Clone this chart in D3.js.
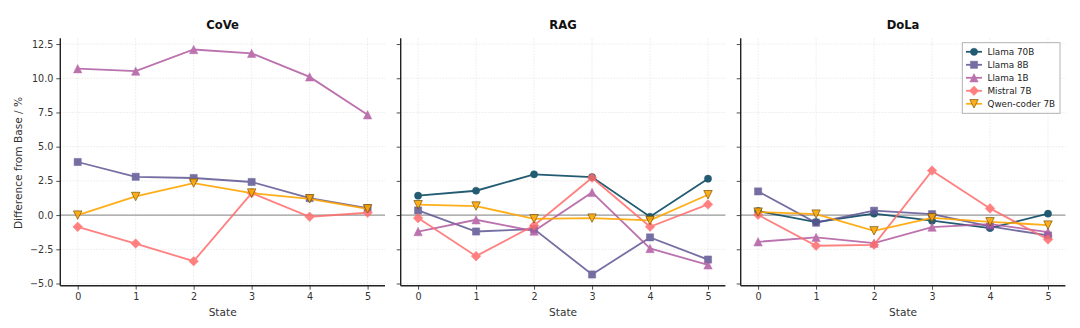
<!DOCTYPE html>
<html><head><meta charset="utf-8">
<script src="https://cdn.jsdelivr.net/npm/d3@7"></script>
<style>body{margin:0;background:#fff}svg{display:block}text{font-family:"DejaVu Sans",sans-serif}</style>
</head><body><svg id="c" width="1080" height="328"></svg>
<script>
const states = [0,1,2,3,4,5];
const panels = ["CoVe","RAG","DoLa"];
const models = ["Llama 70B","Llama 8B","Llama 1B","Mistral 7B","Qwen-coder 7B"];
const colors = ["#17536b","#5c5593","#b05aa0","#ff6b6b","#ffa600"];
const markers = ["circle","square","triangle","diamond","triangleDown"];
// values per panel per model (null = not shown)
const cove = [
  null,
  [3.88,2.80,2.71,2.42,1.24,0.51],
  [10.70,10.52,12.10,11.82,10.10,7.33],
  [-0.86,-2.08,-3.37,1.61,-0.12,0.17],
  [0.00,1.36,2.34,1.61,1.19,0.46]
];
const rag = [
  [1.42,1.78,2.98,2.78,-0.12,2.66],
  [0.34,-1.20,-1.02,-4.34,-1.63,-3.25],
  [-1.20,-0.34,-1.17,1.66,-2.44,-3.64],
  [-0.22,-3.00,-0.76,2.73,-0.85,0.78],
  [0.76,0.66,-0.27,-0.22,-0.39,1.49]
];
const dola = [
  [0.29,-0.51,0.10,-0.41,-0.95,0.10],
  [1.73,-0.56,0.32,0.07,-0.83,-1.49],
  [-1.95,-1.63,-2.05,-0.88,-0.66,-1.24],
  [0.02,-2.24,-2.17,3.25,0.49,-1.78],
  [0.22,0.07,-1.15,-0.20,-0.49,-0.73]
];
const panelData = [cove, rag, dola];
const yTicks = [-5.0,-2.5,0.0,2.5,5.0,7.5,10.0,12.5];
const xTicks = [0,1,2,3,4,5];

const svg = d3.select("#c");
const plotTop = 38.3, plotBottom = 285.7, pw = 324.7;
const lefts = [60.3, 400.7, 740.7];
const y = d3.scaleLinear().domain([-5.16,12.92]).range([plotBottom, plotTop]);

function markerPath(type){
  const p = d3.path();
  if(type==="circle"){ p.arc(0,0,3.6,0,2*Math.PI); }
  else if(type==="square"){ p.rect(-3.6,-3.6,7.2,7.2); }
  else if(type==="triangle"){ p.moveTo(0,-4.2); p.lineTo(4.2,4.2); p.lineTo(-4.2,4.2); p.closePath(); }
  else if(type==="triangleDown"){ p.moveTo(0,4.2); p.lineTo(4.2,-4.2); p.lineTo(-4.2,-4.2); p.closePath(); }
  else if(type==="diamond"){ p.moveTo(0,-4.8); p.lineTo(4.8,0); p.lineTo(0,4.8); p.lineTo(-4.8,0); p.closePath(); }
  return p.toString();
}
const lineOpacity = [0.95,0.85,0.85,0.85,0.9];

panels.forEach((name, pi) => {
  const x = d3.scaleLinear().domain([-0.3,5.3]).range([lefts[pi], lefts[pi]+pw]);
  const g = svg.append("g");
  g.selectAll(".gx").data(xTicks).join("line")
    .attr("x1", d=>x(d)).attr("x2", d=>x(d)).attr("y1", plotTop).attr("y2", plotBottom)
    .attr("stroke","#e4e4e4").attr("stroke-width",0.8).attr("stroke-dasharray","1.5,1.5");
  g.selectAll(".gy").data(yTicks).join("line")
    .attr("x1", lefts[pi]).attr("x2", lefts[pi]+pw).attr("y1", d=>y(d)).attr("y2", d=>y(d))
    .attr("stroke","#e4e4e4").attr("stroke-width",0.8).attr("stroke-dasharray","1.5,1.5");
  g.append("line").attr("x1", lefts[pi]).attr("x2", lefts[pi]+pw).attr("y1", y(0)).attr("y2", y(0))
    .attr("stroke","#9a9a9a").attr("stroke-width",1.3);
  const yMinor = d3.range(-5,13.01,0.5).filter(v=>v>=-5.16&&v<=12.92);
  const xMinor = d3.range(-0.2,5.21,0.2);
  const yAxisMinor = d3.axisLeft(y).tickValues(yMinor).tickSize(2).tickFormat("");
  const xAxisMinor = d3.axisBottom(x).tickValues(xMinor).tickSize(2).tickFormat("");
  const yAxis = d3.axisLeft(y).tickValues(yTicks).tickSize(4).tickPadding(3)
    .tickFormat(pi===0 ? d=>d3.format(".1f")(d).replace("-","\u2212") : "");
  const xAxis = d3.axisBottom(x).tickValues(xTicks).tickSize(4).tickPadding(3).tickFormat(d3.format("d"));
  const ga = g.append("g").attr("transform",`translate(${lefts[pi]},0)`);
  ga.call(yAxisMinor); ga.call(yAxis);
  const gb = g.append("g").attr("transform",`translate(0,${plotBottom})`);
  gb.call(xAxisMinor); gb.call(xAxis);
  [ga,gb].forEach(a=>{
    a.selectAll(".domain").remove();
    a.selectAll(".tick line").attr("stroke","#222").attr("stroke-width",0.8);
    a.selectAll("text").attr("fill","#333").style("font-size","9.6px").style("font-family","DejaVu Sans");
  });
  g.append("line").attr("x1",lefts[pi]).attr("x2",lefts[pi]).attr("y1",plotTop).attr("y2",plotBottom)
    .attr("stroke","#222").attr("stroke-width",1.4);
  g.append("line").attr("x1",lefts[pi]).attr("x2",lefts[pi]+pw).attr("y1",plotBottom).attr("y2",plotBottom)
    .attr("stroke","#222").attr("stroke-width",1.4);
  g.append("text").attr("x", lefts[pi]+pw/2).attr("y", 29).attr("text-anchor","middle")
    .style("font-weight","bold").style("font-size","11.6px").attr("fill","#111").text(name);
  g.append("text").attr("x", lefts[pi]+pw/2).attr("y", 316).attr("text-anchor","middle")
    .style("font-size","10.6px").attr("fill","#333").text("State");
  const line = d3.line().x((d,i)=>x(states[i])).y(d=>y(d));
  panelData[pi].forEach((vals, mi) => {
    if(!vals) return;
    const s = g.append("g").attr("opacity", lineOpacity[mi]);
    s.append("path").attr("d", line(vals)).attr("fill","none")
      .attr("stroke", colors[mi]).attr("stroke-width",1.8);
    s.selectAll("path.m").data(vals).join("path").attr("class","m")
      .attr("transform",(d,i)=>`translate(${x(states[i])},${y(d)})`)
      .attr("d", markerPath(markers[mi]))
      .attr("fill", colors[mi])
      .attr("stroke", mi===4 ? "#7a5200" : colors[mi]).attr("stroke-width", mi===4?0.8:0.5);
  });
});

svg.append("text").attr("transform","translate(22,163) rotate(-90)").attr("text-anchor","middle")
  .style("font-size","10.6px").attr("fill","#333").text("Difference from Base / %");

const lg = svg.append("g");
lg.append("rect").attr("x",962.3).attr("y",42.7).attr("width",97.7).attr("height",70.6)
  .attr("fill","#fff").attr("fill-opacity",0.85).attr("stroke","#aaa").attr("stroke-width",0.9);
models.forEach((m, mi) => {
  const cy = 51.8 + mi*13;
  const e = lg.append("g").attr("opacity", lineOpacity[mi]);
  e.append("line").attr("x1",966).attr("x2",982).attr("y1",cy).attr("y2",cy)
    .attr("stroke",colors[mi]).attr("stroke-width",1.8);
  e.append("path").attr("transform",`translate(974,${cy})`).attr("d",markerPath(markers[mi]))
    .attr("fill",colors[mi]).attr("stroke", mi===4 ? "#7a5200" : colors[mi]).attr("stroke-width", mi===4?0.8:0.5);
  lg.append("text").attr("x",987.5).attr("y",cy+3.2).style("font-size","8.8px").attr("fill","#222").text(m);
});
</script></body></html>
